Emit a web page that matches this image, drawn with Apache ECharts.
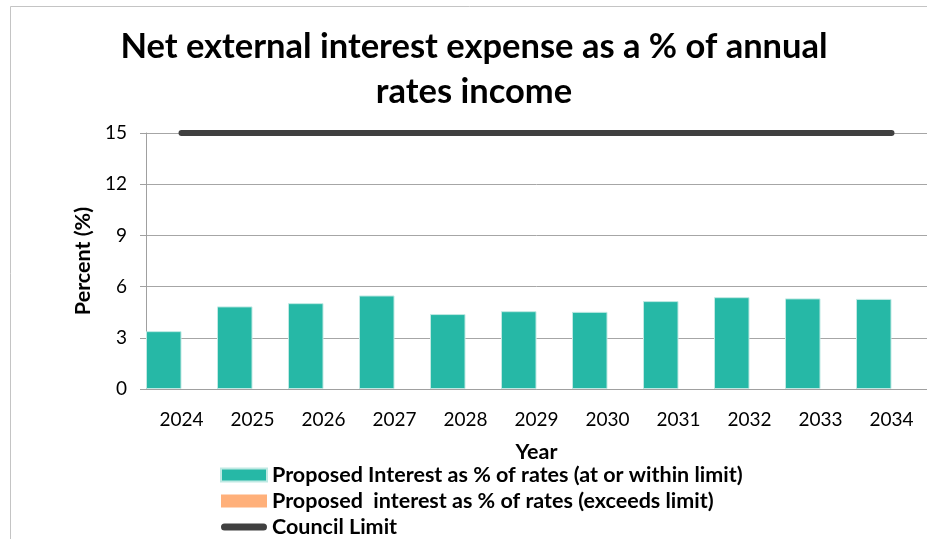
<!DOCTYPE html>
<html>
<head>
<meta charset="utf-8">
<script src="https://cdn.jsdelivr.net/npm/echarts@6/dist/echarts.min.js"></script>
<style>html,body{margin:0;padding:0;background:#fff;}#c{width:927px;height:539px;}</style>
</head>
<body>
<div id="c"></div>
<script>
const categories = ['2024','2025','2026','2027','2028','2029','2030','2031','2032','2033','2034'];
const withinLimit = [3.39, 4.84, 5.03, 5.48, 4.39, 4.56, 4.52, 5.15, 5.38, 5.31, 5.28];
const exceedsLimit = [null, null, null, null, null, null, null, null, null, null, null];
const councilLimit = [15, 15, 15, 15, 15, 15, 15, 15, 15, 15, 15];
const yTicks = {min: 0, max: 15, interval: 3};
const titleText = 'Net external interest expense as a % of annual\nrates income';
const seriesNames = ['Proposed Interest as % of rates (at or within limit)', 'Proposed  interest as % of rates (exceeds limit)', 'Council Limit'];

const FONT = 'Lato';
const chart = echarts.init(document.getElementById('c'), null, {renderer: 'canvas'});
chart.setOption({
  animation: false,
  backgroundColor: '#fff',
  textStyle: {fontFamily: FONT},
  graphic: [{
    type: 'rect', left: 8, top: 4, shape: {width: 1000, height: 600},
    style: {fill: 'none', stroke: '#c4c4c4', lineWidth: 1}, silent: true, z: -1
  }],
  title: {
    text: titleText, left: 474, top: 24, textAlign: 'center', padding: 0,
    textStyle: {fontFamily: FONT, fontWeight: 'bold', fontSize: 34.5, lineHeight: 45, color: '#000'}
  },
  grid: {left: 146, right: 0, top: 133, bottom: 150, containLabel: false},
  xAxis: {
    type: 'category', data: categories, boundaryGap: true,
    name: 'Year', nameLocation: 'middle', nameGap: 52,
    nameTextStyle: {fontFamily: FONT, fontWeight: 'bold', fontSize: 21.5, color: '#000'},
    axisLine: {show: true, lineStyle: {color: '#a0a0a0', width: 1}},
    axisTick: {show: false},
    axisLabel: {fontFamily: FONT, fontSize: 19, color: '#000', margin: 21}
  },
  yAxis: {
    type: 'value', min: yTicks.min, max: yTicks.max, interval: yTicks.interval,
    name: 'Percent (%)', nameLocation: 'middle', nameGap: 52, nameRotate: 90,
    nameTextStyle: {fontFamily: FONT, fontWeight: 'bold', fontSize: 21.5, color: '#000'},
    axisLine: {show: true, lineStyle: {color: '#a0a0a0', width: 1}},
    axisTick: {show: true, length: 6, lineStyle: {color: '#a0a0a0'}},
    splitLine: {show: true, lineStyle: {color: '#a6a6a6', width: 1}},
    axisLabel: {fontFamily: FONT, fontSize: 19, color: '#000', margin: 19}
  },
  legend: {
    orient: 'vertical', left: 220, top: 464, height: 200, padding: 0,
    itemWidth: 46, itemHeight: 13, itemGap: 4,
    textStyle: {fontFamily: FONT, fontWeight: 'bold', fontSize: 21.5, lineHeight: 22, color: '#000'},
    data: [
      {name: seriesNames[0], icon: 'rect'},
      {name: seriesNames[1], icon: 'rect'},
      {name: seriesNames[2], icon: 'path://M4,0 L48,0 A4,4 0 0 1 48,8 L4,8 A4,4 0 0 1 4,0 Z'}
    ]
  },
  series: [
    {
      name: seriesNames[0], type: 'bar', data: withinLimit,
      barGap: '0%', barCategoryGap: '0%',
      itemStyle: {color: '#26b8a6', borderColor: '#bfe9e3', borderWidth: 1}
    },
    {
      name: seriesNames[1], type: 'bar', data: exceedsLimit,
      barGap: '0%', barCategoryGap: '0%',
      itemStyle: {color: '#ffb07a'}
    },
    {
      name: seriesNames[2], type: 'line', data: councilLimit,
      showSymbol: false, symbol: 'none',
      lineStyle: {color: '#404040', width: 6, cap: 'round'},
      itemStyle: {color: '#404040'}, z: 5
    }
  ]
});
</script>
</body>
</html>
